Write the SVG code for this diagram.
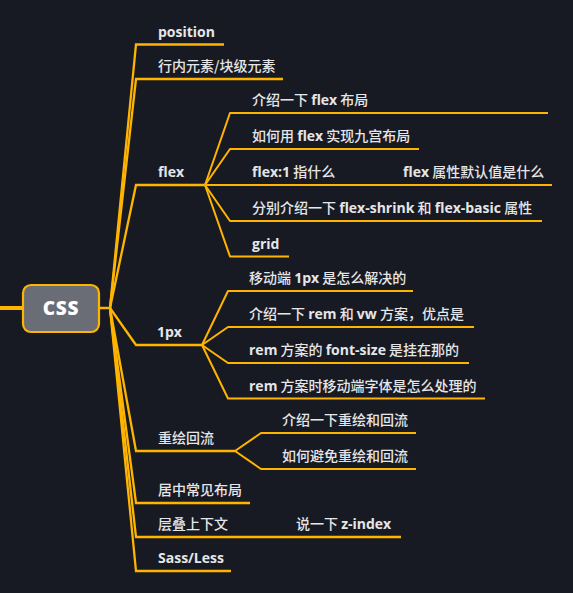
<svg xmlns="http://www.w3.org/2000/svg" width="573" height="593" viewBox="0 0 573 593">
<style>
.bg{fill:#171a23}
.ln{fill:none;stroke:#ffb400;stroke-width:2;stroke-linejoin:round;stroke-linecap:butt}
.br{fill:none;stroke:#ffb400;stroke-width:2.3}
.t{font-family:"Noto Sans CJK SC","Open Sans",sans-serif;font-size:14px;fill:#e6e6e8;font-weight:500}
.t .b,.b{font-family:"Open Sans","Noto Sans CJK SC",sans-serif;font-weight:700}
.root{fill:#6a6d76;stroke:#ffb400;stroke-width:2.2}
.rt{font-family:"Open Sans",sans-serif;font-weight:800;font-size:19px;fill:#ffffff;letter-spacing:0.8px}
</style>
<rect class="bg" x="0" y="0" width="573" height="593"/>
<g id="connectors">
<line x1="0" y1="308" x2="23" y2="308" stroke="#ffb400" stroke-width="4"/>
<line x1="99" y1="308" x2="110" y2="308" stroke="#ffb400" stroke-width="2.5"/>
<path class="br" d="M110,308 L136,44.5 H224"/>
<path class="br" d="M110,308 L136,79 H283"/>
<path class="br" d="M110,308 L136,185 H205"/>
<path class="br" d="M110,308 L136,345 H202"/>
<path class="br" d="M110,308 L136,451 H235"/>
<path class="br" d="M110,308 L136,503 H250"/>
<path class="br" d="M110,308 L136,537 H401"/>
<path class="br" d="M110,308 L136,571 H231"/>
<path class="ln" d="M205,185 L230,113 H548"/>
<path class="ln" d="M205,185 L230,149 H419"/>
<path class="ln" d="M205,185 H552"/>
<path class="ln" d="M205,185 L230,221 H542"/>
<path class="ln" d="M205,185 L230,256.5 H289"/>
<path class="ln" d="M202,345 L228,291 H413"/>
<path class="ln" d="M202,345 L228,327 H474"/>
<path class="ln" d="M202,345 L228,363 H469"/>
<path class="ln" d="M202,345 L228,398.5 H485"/>
<path class="ln" d="M235,451 L261,433 H416"/>
<path class="ln" d="M235,451 L261,469 H416"/>
</g>
<g id="node-css">
<rect class="root" x="23" y="285" width="76" height="47" rx="8"/>
<text class="rt" x="61" y="314.5" text-anchor="middle">CSS</text>
</g>
<g id="node-position"><text class="t b" x="158" y="36.5">position</text></g>
<g id="node-inline"><text class="t" x="158" y="71">行内元素/块级元素</text></g>
<g id="node-flex"><text class="t b" x="158" y="177">flex</text></g>
<g id="node-flex-1"><text class="t" x="252" y="105">介绍一下 <tspan class="b">flex</tspan> 布局</text></g>
<g id="node-flex-2"><text class="t" x="252" y="141">如何用 <tspan class="b">flex</tspan> 实现九宫布局</text></g>
<g id="node-flex-3"><text class="t" x="252" y="177"><tspan class="b">flex:1</tspan> 指什么</text></g>
<g id="node-flex-3-1"><text class="t" x="403" y="177"><tspan class="b">flex</tspan> 属性默认值是什么</text></g>
<g id="node-flex-4"><text class="t" x="252" y="213">分别介绍一下 <tspan class="b">flex-shrink</tspan> 和 <tspan class="b">flex-basic</tspan> 属性</text></g>
<g id="node-flex-5"><text class="t b" x="252" y="248.5">grid</text></g>
<g id="node-1px"><text class="t b" x="157" y="337">1px</text></g>
<g id="node-1px-1"><text class="t" x="249" y="283">移动端 <tspan class="b">1px</tspan> 是怎么解决的</text></g>
<g id="node-1px-2"><text class="t" x="249" y="319">介绍一下 <tspan class="b">rem</tspan> 和 <tspan class="b">vw</tspan> 方案，优点是</text></g>
<g id="node-1px-3"><text class="t" x="249" y="355"><tspan class="b">rem</tspan> 方案的 <tspan class="b">font-size</tspan> 是挂在那的</text></g>
<g id="node-1px-4"><text class="t" x="249" y="390.5"><tspan class="b">rem</tspan> 方案时移动端字体是怎么处理的</text></g>
<g id="node-repaint"><text class="t" x="158" y="443">重绘回流</text></g>
<g id="node-repaint-1"><text class="t" x="282" y="425">介绍一下重绘和回流</text></g>
<g id="node-repaint-2"><text class="t" x="282" y="461">如何避免重绘和回流</text></g>
<g id="node-center"><text class="t" x="158" y="495">居中常见布局</text></g>
<g id="node-stack"><text class="t" x="158" y="529">层叠上下文</text></g>
<g id="node-zindex"><text class="t" x="296" y="529">说一下 <tspan class="b">z-index</tspan></text></g>
<g id="node-sass"><text class="t b" x="158" y="563">Sass/Less</text></g>
</svg>
